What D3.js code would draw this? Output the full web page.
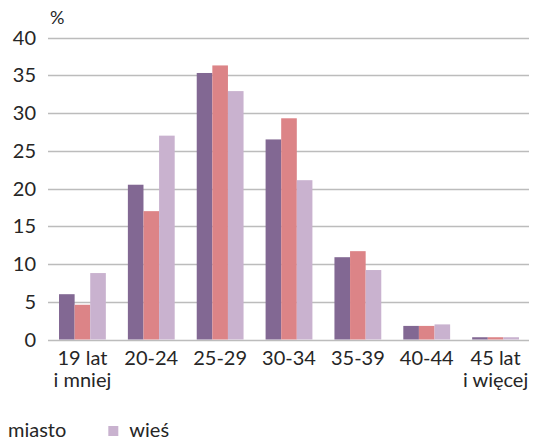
<!DOCTYPE html>
<html><head><meta charset="utf-8">
<script src="https://cdn.jsdelivr.net/npm/d3@7"></script>
<style>
body{margin:0;background:#fff;}
svg{display:block;font-family:Lato,"Open Sans",sans-serif;}
</style></head>
<body>
<svg id="c" width="541" height="442"></svg>
<script>
const categories = [["19 lat","i mniej"],["20-24"],["25-29"],["30-34"],["35-39"],["40-44"],["45 lat","i więcej"]];
const seriesNames = ["ogółem","miasto","wieś"];
const ogolem = [6.0, 20.5, 35.3, 26.5, 10.9, 1.8, 0.3];
const miasto = [4.6, 17.0, 36.3, 29.3, 11.7, 1.8, 0.3];
const wies   = [8.8, 27.0, 32.9, 21.1, 9.2, 2.0, 0.3];
const yTicks = [0,5,10,15,20,25,30,35,40];
const colors = ["#826893","#dc8487","#c9b2cf"];

const svg = d3.select("#c");
const pLeft = 48, pRight = 530, pTop = 37.5, pBottom = 339.5;
const x = d3.scaleBand().domain(d3.range(categories.length)).range([pLeft, pRight]).paddingInner(0.32).paddingOuter(0.16);
const xs = d3.scaleBand().domain(d3.range(3)).range([0, x.bandwidth()]);
const y = d3.scaleLinear().domain([0,40]).range([pBottom, pTop]);

// gridlines
svg.append("g").selectAll("line").data(yTicks).join("line")
  .attr("x1", pLeft).attr("x2", pRight-1)
  .attr("y1", d=>Math.round(y(d))+0.5).attr("y2", d=>Math.round(y(d))+0.5)
  .attr("stroke", "#bcbcbc").attr("stroke-width", 1.3);

// y labels
svg.append("g").selectAll("text").data(yTicks).join("text")
  .attr("x", 36).attr("y", d=>y(d)).attr("dy","0.36em")
  .attr("text-anchor","end").attr("font-size", 20).attr("fill","#262626")
  .text(d=>d);
svg.append("text").attr("x",50).attr("y",24).attr("font-size",18).attr("fill","#262626").text("%");

// bars
const series = [ogolem, miasto, wies];
series.forEach((vals, si) => {
  svg.append("g").selectAll("rect").data(vals).join("rect")
    .attr("x", (d,i)=>x(i)+xs(si))
    .attr("width", xs.bandwidth())
    .attr("y", d=>y(d))
    .attr("height", d=>pBottom - y(d))
    .attr("fill", colors[si]);
});

// x labels
const xl = svg.append("g").selectAll("text").data(categories).join("text")
  .attr("text-anchor","middle").attr("font-size",20).attr("fill","#262626")
  .attr("transform",(d,i)=>`translate(${x(i)+x.bandwidth()/2},364.5)`);
xl.selectAll("tspan").data(d=>d).join("tspan")
  .attr("x",0).attr("dy",(d,j)=>j===0?0:22).text(d=>d);

// legend (the reference shows it cut at the left edge: only "miasto" label and "wieś" entry visible)
const shown = [1,2];
const leg = svg.append("g");
const items = leg.selectAll("g").data(shown).join("g");
items.append("rect").attr("width",10).attr("height",10).attr("y",-11).attr("fill",i=>colors[i]);
items.append("text").attr("x",21).attr("font-size",20).attr("fill","#262626").text(i=>seriesNames[i]);
let widths = [];
items.each(function(){ widths.push(this.getBBox().width); });
const gap = 42;
let pos = [0];
for (let i=1;i<widths.length;i++) pos.push(pos[i-1]+widths[i-1]+gap);
const shift = 8 - 21;
items.attr("transform",(d,i)=>`translate(${pos[i]+shift},437)`);
</script>
</body></html>
